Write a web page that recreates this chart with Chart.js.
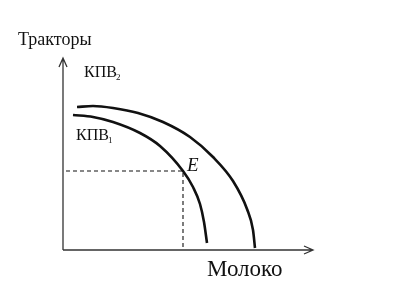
<!DOCTYPE html>
<html>
<head>
<meta charset="utf-8">
<script src="https://cdn.jsdelivr.net/npm/chart.js@4"></script>
<style>
  html, body { margin: 0; padding: 0; background: #fff; }
  #wrap { width: 393px; height: 285px; }
</style>
</head>
<body>
<div id="wrap"><canvas id="c" width="393" height="285"></canvas></div>
<script>
// axis titles and curve labels
const axisTitles = { y: "Тракторы", x: "Молоко" };
const curveNames = ["КПВ", "КПВ"];
const curveSubs = ["1", "2"];
const pointName = "E";

// production possibility curves (milk, tractors)
const ppf1 = [
  { x: 10, y: 135 }, { x: 30, y: 133 }, { x: 50, y: 128 }, { x: 77, y: 117 },
  { x: 97, y: 104 }, { x: 120, y: 79 }, { x: 130, y: 63 }, { x: 137, y: 46 },
  { x: 141, y: 28 }, { x: 144, y: 7 },
];
const ppf2 = [
  { x: 14, y: 143 }, { x: 30, y: 144 }, { x: 50, y: 142 }, { x: 75, y: 137 },
  { x: 100, y: 128 }, { x: 127, y: 113 }, { x: 150, y: 93 }, { x: 170, y: 69 },
  { x: 184, y: 41 }, { x: 190, y: 20 }, { x: 192, y: 2 },
];
// point E on ppf1
const pointE = { x: 120, y: 79 };
const axisMax = { x: 250, y: 192 };

const ink = "#111";
const serif = "'Liberation Serif', 'DejaVu Serif', serif";

const decorPlugin = {
  id: "decor",
  afterDatasetsDraw(chart) {
    const { ctx } = chart;
    const xs = chart.scales.x, ys = chart.scales.y;
    const x0 = xs.getPixelForValue(0), y0 = ys.getPixelForValue(0);
    const xEnd = xs.getPixelForValue(axisMax.x), yEnd = ys.getPixelForValue(axisMax.y);
    ctx.save();
    // axes with arrows
    ctx.strokeStyle = "#333";
    ctx.lineWidth = 1.3;
    ctx.beginPath();
    ctx.moveTo(x0, y0); ctx.lineTo(x0, yEnd);
    ctx.moveTo(x0 - 4, yEnd + 9); ctx.lineTo(x0, yEnd); ctx.lineTo(x0 + 4, yEnd + 9);
    ctx.moveTo(x0, y0); ctx.lineTo(xEnd, y0);
    ctx.moveTo(xEnd - 9, y0 - 4); ctx.lineTo(xEnd, y0); ctx.lineTo(xEnd - 9, y0 + 4);
    ctx.stroke();

    ctx.fillStyle = ink;
    ctx.textBaseline = "alphabetic";
    ctx.font = `18px ${serif}`;
    ctx.fillText(axisTitles.y, 18, 45);
    ctx.font = `23px ${serif}`;
    ctx.fillText(axisTitles.x, 207, 276);

    // curve labels with subscripts
    const drawSub = (name, sub, x, y) => {
      ctx.font = `16px ${serif}`;
      ctx.fillText(name, x, y);
      const w = ctx.measureText(name).width;
      ctx.font = `9px ${serif}`;
      ctx.fillText(sub, x + w - 1, y + 3);
    };
    drawSub(curveNames[0], curveSubs[0], 76, 140);
    drawSub(curveNames[1], curveSubs[1], 84, 77);

    ctx.font = `italic 19px ${serif}`;
    ctx.fillText(pointName, xs.getPixelForValue(pointE.x) + 4, ys.getPixelForValue(pointE.y));
    ctx.restore();
  },
};

new Chart(document.getElementById("c"), {
  type: "line",
  data: {
    datasets: [
      { data: ppf1, borderColor: ink, borderWidth: 2.6, pointRadius: 0, cubicInterpolationMode: "monotone", fill: false },
      { data: ppf2, borderColor: ink, borderWidth: 2.6, pointRadius: 0, cubicInterpolationMode: "monotone", fill: false },
      { data: [{ x: 3, y: pointE.y }, pointE, { x: pointE.x, y: 0 }], borderColor: ink, borderWidth: 1.1,
        borderDash: [4, 3], pointRadius: 0, tension: 0, fill: false },
    ],
  },
  options: {
    responsive: false,
    animation: false,
    layout: { padding: { left: 63, right: 80, top: 58, bottom: 35 } },
    scales: {
      x: { type: "linear", min: 0, max: axisMax.x, display: false },
      y: { type: "linear", min: 0, max: axisMax.y, display: false },
    },
    plugins: { legend: { display: false }, tooltip: { enabled: false } },
  },
  plugins: [decorPlugin],
});
</script>
</body>
</html>
